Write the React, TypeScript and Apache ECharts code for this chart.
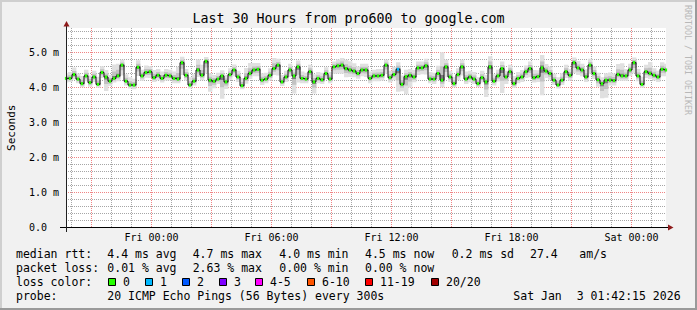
import React, { useEffect, useRef } from "react";
import * as echarts from "echarts";

// ---------------- data ----------------
const chartTitle = "Last 30 Hours from pro600 to google.com";
const yAxisName = "Seconds";
const creditText = "RRDTOOL / TOBI OETIKER";

// minutes relative to Fri 00:00 (30 hour window ending Sat 01:42)
const startMinute = -256.5;
const endMinute = 1543.5;
const stepMinutes = 12;

// median RTT in ms, one value per 12 minutes
const medianRtt = [
  4.26, 4.26, 4.37, 4.24, 4.11, 4.33, 4.14, 4.30, 4.09, 4.43,
  4.30, 4.18, 4.26, 4.33, 4.64, 4.18, 4.07, 4.07, 4.58, 4.33,
  4.43, 4.45, 4.28, 4.35, 4.26, 4.35, 4.33, 4.26, 4.24, 4.71,
  4.35, 4.07, 4.18, 4.50, 4.35, 4.75, 4.21, 4.18,
  4.24, 4.33, 4.16, 4.37, 4.50, 4.30, 4.05, 4.26, 4.40, 4.50,
  4.52, 4.21, 4.24, 4.35, 4.54, 4.64, 4.16, 4.30, 4.50, 4.33,
  4.59, 4.26, 4.24, 4.45, 4.16, 4.26, 4.22, 4.40, 4.24, 4.59,
  4.62, 4.64, 4.54, 4.50, 4.47, 4.40, 4.50,
  4.50, 4.26, 4.33, 4.33, 4.35, 4.64, 4.28, 4.37, 4.52, 4.09,
  4.31, 4.35, 4.30, 4.56, 4.56, 4.62, 4.24, 4.24, 4.40, 4.21,
  4.59, 4.30, 4.11, 4.37, 4.59, 4.24, 4.30, 4.24, 4.11, 4.28,
  4.16, 4.59, 4.18, 4.33, 4.54, 4.30, 4.45, 4.11,
  4.26, 4.30, 4.45, 4.54, 4.28, 4.31, 4.56, 4.47, 4.40, 4.21,
  4.07, 4.21, 4.45, 4.35, 4.71, 4.56, 4.50, 4.30, 4.64, 4.40,
  4.22, 4.11, 4.21, 4.21, 4.20, 4.37, 4.33, 4.33, 4.50, 4.71,
  4.33, 4.09, 4.45, 4.40, 4.35, 4.30, 4.52, 4.50,
];

// distance (ms) from the median down to the fastest ping
const smokeLow = [
  0.12, 0.10, 0.14, 0.12, 0.10, 0.15, 0.12, 0.14, 0.10, 0.16,
  0.40, 0.14, 0.12, 0.15, 0.30, 0.12, 0.10, 0.12, 0.25, 0.14,
  0.15, 0.18, 0.12, 0.14, 0.12, 0.15, 0.12, 0.14, 0.12, 0.35,
  0.15, 0.10, 0.12, 0.20, 0.14, 0.35, 0.33, 0.20, 0.14, 0.65,
  0.20, 0.15, 0.18, 0.14, 0.10, 0.15, 0.16, 0.18, 0.20, 0.14,
  0.12, 0.15, 0.18, 0.30, 0.12, 0.14, 0.20, 0.50, 0.45, 0.14,
  0.12, 0.18, 0.33, 0.14, 0.12, 0.16, 0.12, 0.20, 0.22, 0.25,
  0.25, 0.20, 0.18, 0.15, 0.18, 0.20, 0.14, 0.15, 0.15, 0.15,
  0.25, 0.14, 0.16, 0.64, 0.20, 0.50, 0.35, 0.15, 0.20, 0.18,
  0.25, 0.12, 0.14, 0.18, 0.20, 0.30, 0.14, 0.10, 0.16, 0.25,
  0.14, 0.15, 0.14, 0.10, 0.14, 0.43, 0.40, 0.12, 0.16, 0.70,
  0.20, 0.18, 0.12, 0.14, 0.14, 0.18, 0.25, 0.14, 0.15, 0.78,
  0.20, 0.18, 0.14, 0.10, 0.14, 0.18, 0.15, 0.30, 0.20, 0.18,
  0.14, 0.25, 0.16, 0.20, 0.42, 0.50, 0.15, 0.14, 0.16, 0.14,
  0.14, 0.18, 0.30, 0.15, 0.10, 0.18, 0.16, 0.15, 0.14, 0.20,
  0.18,
];

// distance (ms) from the median up to the slowest ping
const smokeHigh = [
  0.15, 0.18, 0.20, 0.16, 0.22, 0.18, 0.20, 0.18, 0.22, 0.18,
  0.20, 0.18, 0.40, 0.35, 0.15, 0.20, 0.22, 0.18, 0.20, 0.18,
  0.20, 0.16, 0.22, 0.18, 0.20, 0.18, 0.18, 0.20, 0.35, 0.17,
  0.18, 0.22, 0.20, 0.30, 0.30, 0.12, 0.20, 0.18, 0.18, 0.16,
  0.20, 0.18, 0.16, 0.18, 0.22, 0.30, 0.30, 0.20, 0.18, 0.20,
  0.18, 0.20, 0.30, 0.18, 0.20, 0.18, 0.18, 0.20, 0.18, 0.20,
  0.18, 0.20, 0.22, 0.18, 0.20, 0.18, 0.20, 0.15, 0.18, 0.20,
  0.25, 0.25, 0.22, 0.20, 0.18, 0.18, 0.20, 0.18, 0.20, 0.18,
  0.15, 0.20, 0.22, 0.20, 0.25, 0.20, 0.18, 0.20, 0.18, 0.18,
  0.20, 0.20, 0.18, 0.22, 0.80, 0.20, 0.18, 0.20, 0.18, 0.20,
  0.22, 0.18, 0.20, 0.18, 0.20, 0.20, 0.30, 0.20, 0.18, 0.20,
  0.18, 0.20, 0.22, 0.18, 0.20, 0.18, 0.20, 0.22, 0.18, 0.37,
  0.20, 0.20, 0.18, 0.22, 0.20, 0.20, 0.18, 0.15, 0.20, 0.18,
  0.22, 0.18, 0.20, 0.20, 0.18, 0.20, 0.22, 0.20, 0.30, 0.36,
  0.20, 0.18, 0.15, 0.20, 0.22, 0.20, 0.33, 0.20, 0.18, 0.20,
  0.18,
];

// samples where pings were lost
const lossIndex = [83];
const lossCount = [1];

const xLabelValues = [0, 360, 720, 1080, 1440];
const xLabelTexts = ["Fri 00:00", "Fri 06:00", "Fri 12:00", "Fri 18:00", "Sat 00:00"];
const xMajorGrid = [-180, 0, 180, 360, 540, 720, 900, 1080, 1260, 1440];
const xMinorGrid = [
  -240, -120, -60, 60, 120, 240, 300, 420, 480, 600, 660, 780, 840, 960, 1020,
  1140, 1200, 1320, 1380, 1500,
];
const yMax = 5.7;
const yLabelValues = [0, 1, 2, 3, 4, 5];
const yLabelTexts = ["0.0", "1.0 m", "2.0 m", "3.0 m", "4.0 m", "5.0 m"];
const yMajorGrid = [1, 2, 3, 4, 5];
const yMinorGrid = [
  0.2, 0.4, 0.6, 0.8, 1.2, 1.4, 1.6, 1.8, 2.2, 2.4, 2.6, 2.8, 3.2, 3.4, 3.6,
  3.8, 4.2, 4.4, 4.6, 4.8, 5.2, 5.4, 5.6,
];

const lossLabels = ["0", "1", "2", "3", "4-5", "6-10", "11-19", "20/20"];
const lossColors = ["#26ff00", "#00b8ff", "#0059ff", "#7e00ff", "#ff00ff", "#ff5500", "#ff0000", "#a10000"];
const lossUpper = [0, 1, 2, 3, 5, 10, 19, 20];

const rttLabel = "median rtt:";
const rttStats = ["4.4 ms avg", "4.7 ms max", "4.0 ms min", "4.5 ms now", "0.2 ms sd", "27.4", "am/s"];
const lossLabel = "packet loss:";
const lossStats = ["0.01 % avg", "2.63 % max", "0.00 % min", "0.00 % now"];
const lossColorLabel = "loss color:";
const probeLabel = "probe:";
const probeText = "20 ICMP Echo Pings (56 Bytes) every 300s";
const stampDay = "Sat Jan";
const stampRest = "3 01:42:15 2026";

// ---------------- layout / style ----------------
const MONO = "'DejaVu Sans Mono', 'Liberation Mono', monospace";
const LEG_FS = 11.5;
const rttX = [107.3, 192.7, 279.3, 365, 451.7, 530, 579.3];
const lossX = [107.3, 192.7, 279.3, 365];
const boxX = [108.5, 145.5, 182.5, 219.5, 255.5, 307.5, 365.5, 431.5];
const rowY = [254.3, 268.3, 282.3, 296.3];

function bucket(count: number): number {
  for (let k = 0; k < lossUpper.length; k++) if (count <= lossUpper[k]) return k;
  return lossUpper.length - 1;
}

export default function App() {
  const ref = useRef<HTMLDivElement>(null);

  useEffect(() => {
    document.body.style.margin = "0";
    if (!ref.current) return;
    const chart = echarts.init(ref.current, undefined, { renderer: "svg" });

    const times = medianRtt.map((_, i) => startMinute + i * stepMinutes);
    const lossOf = (i: number) => {
      const k = lossIndex.indexOf(i);
      return k >= 0 ? lossCount[k] : 0;
    };

    const text = (t: string, x: number, y: number) => ({
      type: "text",
      x,
      y,
      z: 50,
      silent: true,
      style: {
        text: t,
        fill: "#000",
        fontFamily: MONO,
        fontSize: LEG_FS,
        align: "left",
        verticalAlign: "middle",
      },
    });

    const graphics: any[] = [
      // 3D frame
      { type: "rect", shape: { x: 0, y: 0, width: 697, height: 2 }, style: { fill: "#cfcfcf" }, z: 60 },
      { type: "rect", shape: { x: 0, y: 0, width: 2, height: 310 }, style: { fill: "#cfcfcf" }, z: 60 },
      { type: "rect", shape: { x: 0, y: 308, width: 697, height: 2 }, style: { fill: "#9a9a9a" }, z: 61 },
      { type: "rect", shape: { x: 695, y: 0, width: 2, height: 310 }, style: { fill: "#9a9a9a" }, z: 61 },
      // credit
      {
        type: "text",
        x: 687.5,
        y: 5,
        rotation: -Math.PI / 2,
        silent: true,
        style: { text: creditText, fill: "#b8b8b8", fontFamily: MONO, fontSize: 8.3, align: "left", verticalAlign: "middle" },
      },
      // axis extensions and arrows
      { type: "line", shape: { x1: 60, y1: 227.5, x2: 669, y2: 227.5 }, style: { stroke: "#000", lineWidth: 1 }, z: 40 },
      { type: "line", shape: { x1: 66.5, y1: 26, x2: 66.5, y2: 232 }, style: { stroke: "#202020", lineWidth: 1 }, z: 40 },
      { type: "polygon", shape: { points: [[668, 224.5], [673.5, 227.5], [668, 230.5]] }, style: { fill: "#8e1a1a" }, z: 41 },
      { type: "polygon", shape: { points: [[63.5, 26.5], [66.5, 21], [69.5, 26.5]] }, style: { fill: "#8e1a1a" }, z: 41 },
      // legend rows
      text(rttLabel, 16, rowY[0]),
      ...rttStats.map((s, k) => text(s, rttX[k], rowY[0])),
      text(lossLabel, 16, rowY[1]),
      ...lossStats.map((s, k) => text(s, lossX[k], rowY[1])),
      text(lossColorLabel, 16, rowY[2]),
      ...lossLabels.map((s, k) => text(s, boxX[k] + 14.5, rowY[2])),
      ...lossColors.map((c, k) => ({
        type: "rect",
        z: 50,
        shape: { x: boxX[k], y: 278.5, width: 7, height: 7 },
        style: { fill: c, stroke: "#000", lineWidth: 1 },
      })),
      text(probeLabel, 16, rowY[3]),
      text(probeText, 107.3, rowY[3]),
      text(stampDay, 513.3, rowY[3]),
      text(stampRest, 576.7, rowY[3]),
    ];

    const gray = { color: "#a6a6a6", width: 1, type: [1, 1] as any };
    const red = { color: "#f08484", width: 1, type: [1, 1] as any };
    const blank = () => "";

    const option: any = {
      animation: false,
      backgroundColor: "#f1f1f1",
      title: {
        text: chartTitle,
        left: "center",
        top: 12.3,
        padding: 0,
        textStyle: { fontFamily: MONO, fontSize: 13.3, fontWeight: "normal", color: "#000" },
      },
      grid: {
        left: 66,
        right: 31,
        top: 28,
        bottom: 82.5,
        show: true,
        backgroundColor: "#ffffff",
        borderWidth: 0,
        containLabel: false,
        outerBoundsMode: "none",
      },
      xAxis: [
        {
          type: "value",
          min: startMinute,
          max: endMinute,
          position: "bottom",
          axisLine: { show: false, onZero: false },
          axisTick: { show: false, customValues: xMinorGrid },
          axisLabel: { show: true, customValues: xMinorGrid, formatter: blank },
          splitLine: { show: true, lineStyle: gray },
        },
        {
          type: "value",
          min: startMinute,
          max: endMinute,
          position: "bottom",
          axisLine: { show: true, onZero: false, lineStyle: { color: "#000", width: 1 } },
          axisTick: { show: false, customValues: xMajorGrid },
          axisLabel: {
            show: true,
            customValues: xLabelValues,
            formatter: (v: number) => {
              const k = xLabelValues.findIndex((x) => Math.abs(x - v) < 1e-6);
              return k >= 0 ? xLabelTexts[k] : "";
            },
            fontFamily: MONO,
            fontSize: 10,
            color: "#000",
            margin: 5,
          },
          splitLine: { show: true, lineStyle: red },
        },
      ],
      yAxis: [
        {
          type: "value",
          min: 0,
          max: yMax,
          position: "left",
          axisLine: { show: false, onZero: false },
          axisTick: { show: false, customValues: yMinorGrid },
          axisLabel: { show: true, customValues: yMinorGrid, formatter: blank },
          splitLine: { show: true, lineStyle: gray },
        },
        {
          type: "value",
          min: 0,
          max: yMax,
          position: "left",
          name: yAxisName,
          nameLocation: "middle",
          nameGap: 49,
          nameRotate: 90,
          nameTextStyle: { fontFamily: MONO, fontSize: 11, color: "#000" },
          axisLine: { show: true, onZero: false, lineStyle: { color: "#202020", width: 1 } },
          axisTick: { show: false, customValues: yMajorGrid },
          axisLabel: {
            show: true,
            customValues: yLabelValues,
            formatter: (v: number) => {
              const k = yLabelValues.findIndex((x) => Math.abs(x - v) < 1e-6);
              return k >= 0 ? yLabelTexts[k] : "";
            },
            align: "left",
            margin: 37,
            fontFamily: MONO,
            fontSize: 10,
            color: "#000",
          },
          splitLine: { show: true, lineStyle: red },
        },
      ],
      series: [
        {
          type: "custom",
          name: "smoke",
          xAxisIndex: 1,
          yAxisIndex: 1,
          silent: true,
          z: 3,
          clip: true,
          data: medianRtt.map((v, i) => [times[i], v, smokeLow[i], smokeHigh[i]]),
          encode: { x: 0, y: 1 },
          renderItem: (_p: any, api: any) => {
            const t = api.value(0);
            const m = api.value(1);
            const lo = api.value(2);
            const hi = api.value(3);
            const w = api.size([stepMinutes, 0])[0];
            const shades: [number, string][] = [
              [1, "#e0e0e0"],
              [0.5, "#c2c2c2"],
              [0.18, "#7c7c7c"],
            ];
            return {
              type: "group",
              children: shades.map(([f, c]) => {
                const top = api.coord([t, m + hi * f]);
                const bot = api.coord([t, m - lo * f]);
                return {
                  type: "rect",
                  shape: { x: top[0] - w / 2, y: top[1], width: w + 0.4, height: bot[1] - top[1] },
                  style: { fill: c },
                };
              }),
            };
          },
        },
        {
          type: "line",
          name: "median",
          xAxisIndex: 1,
          yAxisIndex: 1,
          silent: true,
          z: 4,
          step: "middle",
          symbol: "none",
          lineStyle: { color: "#111111", width: 1 },
          data: medianRtt.map((v, i) => [times[i], v]),
        },
        {
          type: "custom",
          name: "loss",
          xAxisIndex: 1,
          yAxisIndex: 1,
          silent: true,
          z: 5,
          data: medianRtt.map((v, i) => [times[i], v, lossOf(i)]),
          encode: { x: 0, y: 1 },
          renderItem: (_p: any, api: any) => {
            const p = api.coord([api.value(0), api.value(1)]);
            const w = api.size([stepMinutes, 0])[0] * 0.55;
            return {
              type: "rect",
              shape: { x: p[0] - w / 2, y: p[1] - 1.5, width: w, height: 3 },
              style: { fill: lossColors[bucket(api.value(2))] },
            };
          },
        },
      ],
      graphic: graphics,
    };

    chart.setOption(option);
    return () => chart.dispose();
  }, []);

  return <div ref={ref} style={{ width: 697, height: 310 }} />;
}
